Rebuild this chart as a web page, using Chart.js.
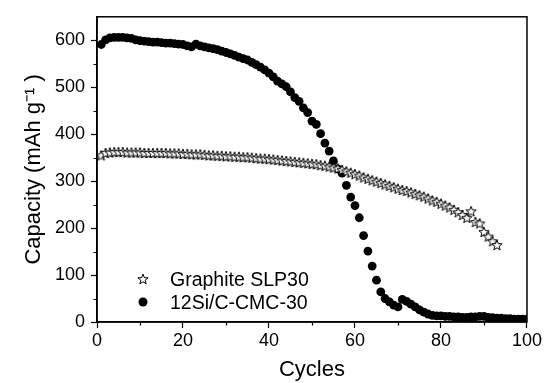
<!DOCTYPE html>
<html><head><meta charset="utf-8">
<script src="https://cdn.jsdelivr.net/npm/chart.js@4.4.0/dist/chart.umd.min.js"></script>
<style>html,body{margin:0;padding:0;background:#fff}#wrap{width:544px;height:383px;position:relative}</style>
</head><body><div id="wrap"><canvas id="c" width="544" height="383"></canvas></div>
<script>
const graphiteCycles = [1,2,3,4,5,6,7,8,9,10,11,12,13,14,15,16,17,18,19,20,21,22,23,24,25,26,27,28,29,30,31,32,33,34,35,36,37,38,39,40,41,42,43,44,45,46,47,48,49,50,51,52,53,54,55,56,57,58,59,60,61,62,63,64,65,66,67,68,69,70,71,72,73,74,75,76,77,78,79,80,81,82,83,84,85,86,87,88,89,90,91,92,93];
const graphiteCapacity = [355,360,361,362,362,362,361,361,361,361,360,360,360,360,360,360,359,359,359,358,358,357,357,357,356,355,355,354,354,353,353,352,352,351,351,350,349,348,348,347,346,345,344,343,342,341,340,339,338,337,336,334,333,331,329,327,324,321,318,315,312,308,305,302,299,296,293,290,287,284,281,279,276,273,270,267,263,259,256,252,248,244,239,234,228,222,236,213,210,192,182,172,164];
const siCycles = [1,2,3,4,5,6,7,8,9,10,11,12,13,14,15,16,17,18,19,20,21,22,23,24,25,26,27,28,29,30,31,32,33,34,35,36,37,38,39,40,41,42,43,44,45,46,47,48,49,50,51,52,53,54,55,56,57,58,59,60,61,62,63,64,65,66,67,68,69,70,71,72,73,74,75,76,77,78,79,80,81,82,83,84,85,86,87,88,89,90,91,92,93,94,95,96,97,98,99,100];
const siCapacity = [591,601,605,606,606,606,605,604,601,599,598,597,596,596,595,594,594,593,592,591,588,586,592,588,586,584,582,580,577,574,571,568,564,561,558,553,548,543,537,530,522,513,507,501,490,478,470,456,446,428,421,401,381,364,343,326,317,291,266,248,222,184,151,119,89,64,50,43,36,32,48,44,38,32,26,21,17,14,13,13,12,12,11,11,10,10,11,11,12,12,10,9,8,8,7,7,6,6,6,6];
const seriesNames = ['Graphite SLP30', '12Si/C-CMC-30'];
const xTicks = [0,20,40,60,80,100];
const yTicks = [0,100,200,300,400,500,600];
const xMinor = [10,30,50,70,90];
const yMinor = [50,150,250,350,450,550];

function makeStar(size, ro, ri){
  const c = document.createElement('canvas');
  c.width = size; c.height = size;
  const g = c.getContext('2d');
  const cx = size/2, cy = size/2 + 0.5;
  g.beginPath();
  for (let i=0;i<10;i++){
    const r = i%2===0 ? ro : ri;
    const a = -Math.PI/2 + i*Math.PI/5;
    const px = cx + r*Math.cos(a), py = cy + r*Math.sin(a);
    if(i===0) g.moveTo(px,py); else g.lineTo(px,py);
  }
  g.closePath();
  g.fillStyle = '#fff'; g.fill();
  g.strokeStyle = '#000'; g.lineWidth = 1; g.stroke();
  return c;
}
const starImg = makeStar(14, 5.4, 2.3);

const FONT = "'Liberation Sans', Arial, sans-serif";

const framePlugin = {
  id: 'frame',
  afterDraw(chart){
    const {ctx, chartArea:a, scales:{x, y}} = chart;
    ctx.save();
    ctx.strokeStyle = '#000';
    ctx.lineWidth = 1.5;
    ctx.strokeRect(a.left, a.top, a.right - a.left, a.bottom - a.top);
    ctx.lineWidth = 1.2;
    ctx.beginPath();
    xMinor.forEach(v => { const px = Math.round(x.getPixelForValue(v)) + 0.5; ctx.moveTo(px, a.bottom); ctx.lineTo(px, a.bottom + 3.5); });
    yMinor.forEach(v => { const py = Math.round(y.getPixelForValue(v)) + 0.5; ctx.moveTo(a.left, py); ctx.lineTo(a.left - 3.5, py); });
    ctx.stroke();
    // legend
    const lx = a.left + 46;
    ctx.drawImage(starImg, lx - 7, 279 - 7);
    ctx.beginPath(); ctx.arc(lx, 302, 4.5, 0, Math.PI*2); ctx.fillStyle = '#000'; ctx.fill();
    ctx.font = '19.5px ' + FONT;
    ctx.textBaseline = 'alphabetic';
    ctx.fillStyle = '#000';
    ctx.fillText(seriesNames[0], a.left + 73, 286);
    ctx.fillText(seriesNames[1], a.left + 73, 309);
    ctx.restore();
  }
};

new Chart(document.getElementById('c'), {
  type: 'scatter',
  data: {
    datasets: [
      { label: seriesNames[1], data: siCycles.map((c,i)=>({x:c, y:siCapacity[i]})),
        pointStyle: 'circle', pointRadius: 4.4, pointHoverRadius: 4.4,
        backgroundColor: '#000', borderColor: '#000', borderWidth: 0, showLine: false, clip: 0, order: 2 },
      { label: seriesNames[0], data: graphiteCycles.map((c,i)=>({x:c, y:graphiteCapacity[i]})),
        pointStyle: starImg, pointRadius: 5, showLine: false, clip: 0, order: 1 }
    ]
  },
  options: {
    responsive: false, animation: false, devicePixelRatio: 1,
    layout: { padding: { top: 15, right: 16, left: 0, bottom: 0 } },
    plugins: { legend: { display: false }, tooltip: { enabled: false } },
    scales: {
      x: {
        type: 'linear', min: 0, max: 100,
        afterFit(s){ s.height = 61; },
        afterBuildTicks(s){ s.ticks = xTicks.map(v=>({value:v})); },
        ticks: { font: { size: 18, family: FONT }, color: '#000', padding: 2, maxRotation: 0 },
        grid: { display: true, drawOnChartArea: false, tickLength: 6, tickWidth: 1.2, tickColor: '#000' },
        border: { display: true, color: '#000', width: 1.5 },
        title: { display: true, text: 'Cycles', font: { size: 22, family: FONT }, color: '#000', padding: { top: 0, bottom: 0 } }
      },
      y: {
        type: 'linear', min: 0, max: 650,
        afterFit(s){ s.width = 97; },
        afterBuildTicks(s){ s.ticks = yTicks.map(v=>({value:v})); },
        ticks: { font: { size: 18, family: FONT }, color: '#000', padding: 6 },
        grid: { display: true, drawOnChartArea: false, tickLength: 6, tickWidth: 1.2, tickColor: '#000' },
        border: { display: true, color: '#000', width: 1.5 },
        title: { display: true, text: 'Capacity (mAh g\u207B\u00B9 )', font: { size: 22, family: FONT }, color: '#000', padding: { top: 21, bottom: 0 } }
      }
    }
  },
  plugins: [framePlugin]
});
</script></body></html>
